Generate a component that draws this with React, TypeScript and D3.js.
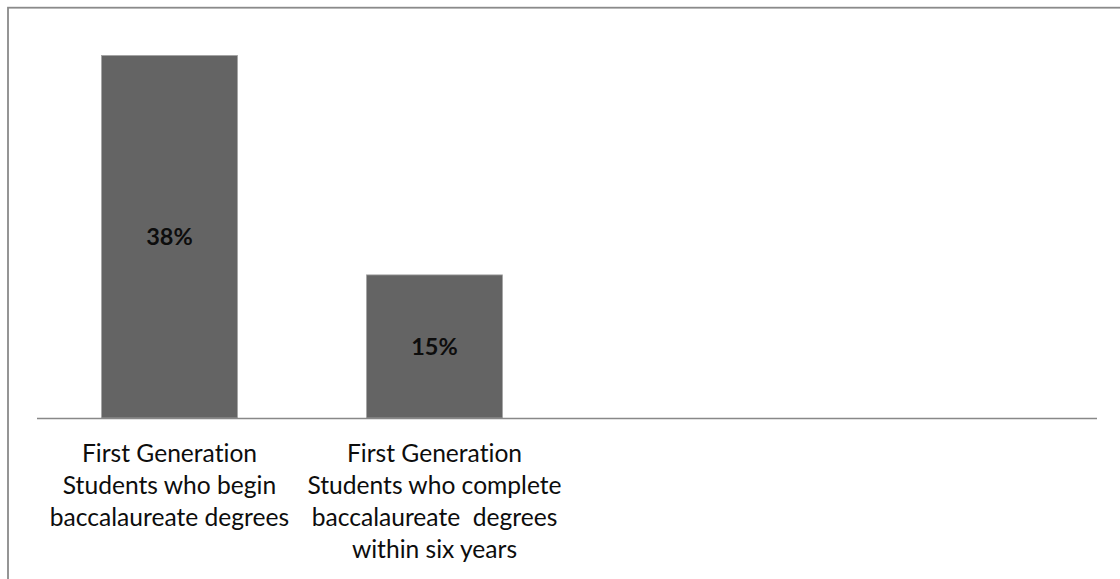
import React from "react";
import * as d3 from "d3";

const categories: string[][] = [
  ["First Generation", "Students who begin", "baccalaureate degrees"],
  ["First Generation", "Students who complete", "baccalaureate  degrees", "within six years"],
  [],
  [],
];
const categoryKeys = ["c1", "c2", "c3", "c4"];
const values: (number | null)[] = [0.38, 0.15, null, null];
const valueLabels = ["38%", "15%", "", ""];

const W = 1120;
const H = 579;

export default function App() {
  const x = d3.scaleBand<string>().domain(categoryKeys).range([37, 1097]).paddingInner(0.487).paddingOuter(0.2435);
  const y = d3.scaleLinear().domain([0, 0.4]).range([418, 36.4]);
  const bw = x.bandwidth();
  const font = "Lato, 'Open Sans', sans-serif";
  return (
    <svg width={W} height={H} style={{ position: "absolute", left: 0, top: 0, background: "#fff", fontVariantLigatures: "none" }}>
      <rect x={8} y={7.7} width={W + 50} height={H + 50} fill="none" stroke="#8a8a8a" strokeWidth={1.8} />
      {values.map((v, i) =>
        v == null ? null : (
          <g key={categoryKeys[i]}>
            <rect
              x={x(categoryKeys[i])!}
              y={y(v)}
              width={bw}
              height={y(0) - y(v)}
              fill="#646464"
              stroke="#a2a2a2"
              strokeWidth={0.8}
            />
            <text
              x={x(categoryKeys[i])! + bw / 2}
              y={(y(v) + y(0)) / 2}
              dy="0.36em"
              textAnchor="middle"
              fontFamily={font}
              fontWeight="bold"
              fontSize={23.5}
              fill="#0d0d0d"
            >
              {valueLabels[i]}
            </text>
          </g>
        )
      )}
      <line x1={37} x2={1097} y1={418.5} y2={418.5} stroke="#888" strokeWidth={1.6} />
      {categories.map((lines, i) => {
        const cx = x(categoryKeys[i])! + bw / 2;
        return (
          <text key={categoryKeys[i]} textAnchor="middle" fontFamily={font} fontSize={24.6} fill="#0d0d0d">
            {lines.map((l, j) => (
              <tspan key={j} x={cx} y={461.5 + j * 32.2} style={{ whiteSpace: "pre" }}>
                {l}
              </tspan>
            ))}
          </text>
        );
      })}
    </svg>
  );
}
